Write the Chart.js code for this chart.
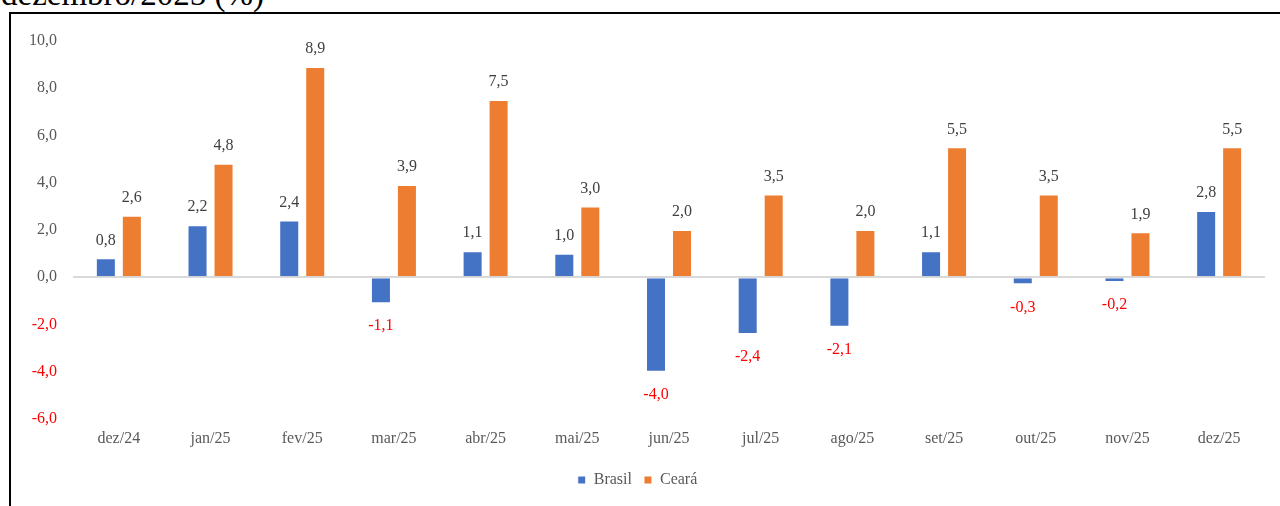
<!DOCTYPE html>
<html>
<head>
<meta charset="utf-8">
<script src="https://cdn.jsdelivr.net/npm/chart.js@4"></script>
<style>
  html, body { margin: 0; padding: 0; background: #fff; overflow: hidden; }
  body { width: 1280px; height: 506px; position: relative; }
  #titulo {
    position: absolute; left: 1px; top: -22px;
    font-family: "Liberation Serif", serif; font-size: 33px; line-height: 33px; color: #000;
    white-space: nowrap;
  }
  #moldura {
    position: absolute; left: 9px; top: 12px; width: 1290px; height: 520px;
    border-left: 2px solid #000; border-top: 2px solid #000;
  }
  #wrap { position: absolute; left: 0; top: 0; width: 1280px; height: 506px; }
</style>
</head>
<body>
<div id="titulo">dezembro/2025 (%)</div>
<div id="moldura"></div>
<div id="wrap"><canvas id="grafico" width="1280" height="506"></canvas></div>
<script>
// ===== Dados =====
const meses = ['dez/24', 'jan/25', 'fev/25', 'mar/25', 'abr/25', 'mai/25', 'jun/25',
  'jul/25', 'ago/25', 'set/25', 'out/25', 'nov/25', 'dez/25'];
const brasil = [0.8, 2.2, 2.4, -1.1, 1.1, 1.0, -4.0, -2.4, -2.1, 1.1, -0.3, -0.2, 2.8];
const ceara = [2.6, 4.8, 8.9, 3.9, 7.5, 3.0, 2.0, 3.5, 2.0, 5.5, 3.5, 1.9, 5.5];
const eixoY = [-6, -4, -2, 0, 2, 4, 6, 8, 10];

const fonte = '"Liberation Serif", serif';
const fmt = v => v.toFixed(1).replace('.', ',');

// rótulos de valor em cima / embaixo das barras
const rotulos = {
  id: 'rotulos',
  afterDatasetsDraw(chart) {
    const ctx = chart.ctx;
    ctx.save();
    ctx.font = '16px ' + fonte;
    ctx.textAlign = 'center';
    chart.data.datasets.forEach((ds, i) => {
      const meta = chart.getDatasetMeta(i);
      meta.data.forEach((bar, j) => {
        const v = ds.data[j];
        if (v >= 0) {
          ctx.fillStyle = '#404040';
          ctx.textBaseline = 'bottom';
          ctx.fillText(fmt(v), bar.x, bar.y - 10);
        } else {
          ctx.fillStyle = '#ff0000';
          ctx.textBaseline = 'top';
          ctx.fillText(fmt(v), bar.x, bar.y + 15);
        }
      });
    });
    ctx.restore();
  }
};

new Chart(document.getElementById('grafico'), {
  type: 'bar',
  data: {
    labels: meses,
    datasets: [
      { label: 'Brasil', data: brasil, backgroundColor: '#4472c4', borderColor: '#ffffff', borderWidth: 1,
        categoryPercentage: 0.567, barPercentage: 0.77 },
      { label: 'Ceará', data: ceara, backgroundColor: '#ed7d31', borderColor: '#ffffff', borderWidth: 1,
        categoryPercentage: 0.567, barPercentage: 0.77 }
    ]
  },
  options: {
    responsive: false,
    devicePixelRatio: 1,
    animation: false,
    layout: { padding: { left: 10, right: 15, top: 41, bottom: 8 } },
    plugins: {
      legend: {
        position: 'bottom',
        labels: {
          boxWidth: 8, boxHeight: 8, padding: 12,
          color: '#595959',
          font: { family: fonte, size: 16 }
        }
      },
      tooltip: { enabled: false }
    },
    scales: {
      x: {
        grid: { display: false, drawTicks: false },
        border: { display: false },
        ticks: { color: '#595959', padding: 10, maxRotation: 0, font: { family: fonte, size: 16 } },
        afterFit: s => { s.height = 41; }
      },
      y: {
        min: eixoY[0],
        max: eixoY[eixoY.length - 1],
        afterBuildTicks: s => { s.ticks = eixoY.map(v => ({ value: v })); },
        grid: {
          drawTicks: false,
          color: c => c.tick && c.tick.value === 0 ? '#d9d9d9' : 'rgba(0,0,0,0)',
          lineWidth: 2
        },
        border: { display: false },
        ticks: {
          padding: 16,
          font: { family: fonte, size: 16 },
          color: c => c.tick.value < 0 ? '#ff0000' : '#595959',
          callback: v => fmt(v)
        },
        afterFit: s => { s.width = 63; }
      }
    }
  },
  plugins: [rotulos]
});
</script>
</body>
</html>
